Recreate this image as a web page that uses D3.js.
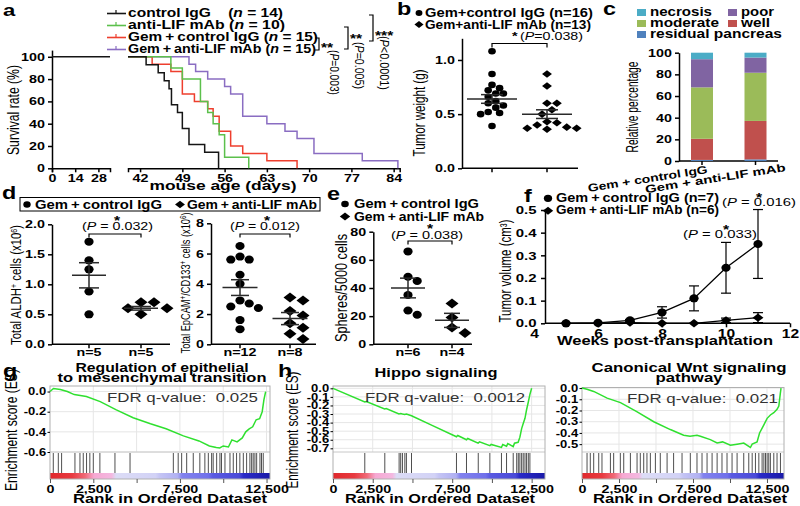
<!DOCTYPE html>
<html>
<head>
<meta charset="utf-8">
<title>LIF blockade figure</title>
<script src="https://cdn.jsdelivr.net/npm/d3@7"></script>
<style>
  body { margin: 0; background: #fff; }
  svg { display: block; font-family: "Liberation Sans", Arial, sans-serif; }
</style>
</head>
<body>
<script>
// ---- data ----
// a: Kaplan-Meier steps [day, % alive]
const kmCtrl = [[40,100],[43,92.9],[45,85.7],[46,78.6],[46.8,71.4],[47.2,57.1],[48.2,50],[49,35.7],[50.1,21.4],[52.7,14.3],[55,0]];
const kmAnti = [[40,100],[47.1,90],[49,80],[52,60],[53.2,50],[54.1,40],[55.1,30],[56,10],[60,0]];
const kmGem = [[40,100],[44,93.3],[47.1,86.7],[49,66.7],[51,60],[53.2,53.3],[54.1,46.7],[55.1,33.3],[57,20],[59,13.3],[63,6.7],[68,0]];
const kmGemAnti = [[40,100],[50.1,93.3],[51.2,86.7],[53.2,80],[56,73.3],[57,66.7],[59,46.7],[63,40],[66,33.3],[68,26.7],[70.8,13.3],[78.8,6.7],[84.7,0]];
const aNames = ["control IgG\u00a0\u00a0\u00a0\u00a0", "anti-LIF mAb ", "Gem\u2009+\u2009control IgG ", "Gem\u2009+\u2009anti-LIF mAb "];
const aN = [14, 10, 15, 15];

// b: tumour weight (g)
const bIgG = [1.08,0.87,0.77,0.74,0.72,0.69,0.69,0.66,0.62,0.60,0.58,0.56,0.52,0.51,0.50,0.39];
const bLif = [0.87,0.76,0.60,0.60,0.54,0.50,0.43,0.42,0.40,0.38,0.37,0.37,0.36];
const bMean = [0.64, 0.50], bSem = [0.04, 0.04];

// c: relative percentage
const cGroups = ["Gem + control IgG", "Gem + anti-LIF mAb"];
const cResidual = [1, 1.5];
const cWell = [19.5, 35.5];
const cModerate = [47.5, 44.5];
const cPoor = [26, 14];
const cNecrosis = [6, 4.5];

// d: ALDH+ and EpCAM+/CD133+ cells (x10^6)
const dAldhIgG = [1.71,1.40,1.25,0.88,0.50];
const dAldhLif = [0.70,0.70,0.60,0.60,0.50];
const dAldhMean = [1.15, 0.60], dAldhSem = [0.21, 0.03];
const dEpIgG = [6.5,5.8,5.6,5.6,4.6,4.0,2.9,2.7,2.5,2.4,1.6,1.0];
const dEpLif = [3.1,2.9,2.2,1.9,1.4,1.1,0.7,0.35];
const dEpMean = [3.75, 1.70], dEpSem = [0.52, 0.40];

// e: spheres / 5000 cells
const eIgG = [66,48,45,35,24,21];
const eLif = [29,19,12,8];
const eMean = [40, 17], eSem = [7, 5];

// f: tumour volume (cm3)
const fWeeks = [5,6,7,8,9,10,11];
const fCtrlMean = [0,0.002,0.013,0.048,0.11,0.245,0.35];
const fCtrlSem = [0,0,0.004,0.025,0.055,0.112,0.152];
const fAntiMean = [0,0,0.003,0,0,0.013,0.025];
const fAntiSem = [0,0,0,0,0,0.01,0.022];

// g/h: GSEA running enrichment scores [rank, ES] and hit ranks
const esEmt = [[0,0],[200,0.03],[600,0.02],[1000,0],[1400,-0.03],[2100,-0.05],[2900,-0.1],[3800,-0.18],[4800,-0.26],[5800,-0.32],[6700,-0.37],[7700,-0.44],[8600,-0.49],[9200,-0.54],[9600,-0.555],[9800,-0.56],[10000,-0.54],[10300,-0.55],[10500,-0.48],[10800,-0.5],[11100,-0.46],[11300,-0.4],[11500,-0.37],[11700,-0.35],[11900,-0.28],[12100,-0.27],[12250,-0.2],[12350,-0.08],[12450,0]];
const hitsEmt = [190,480,670,1440,1730,1920,2110,2300,2500,2880,3750,4620,7120,7400,7600,7890,8270,8650,8940,9140,9330,9420,9620,9810,9900,10100,10390,10580,10770,10960,11160,11350,11540,11640,11730,11830,11930,12120,12210,12310];
const esHippo = [[0,0],[2000,-0.16],[2100,-0.155],[3250,-0.24],[3350,-0.235],[4150,-0.3],[4260,-0.295],[4370,-0.3],[4510,-0.305],[4620,-0.3],[4940,-0.32],[6200,-0.43],[7770,-0.565],[7850,-0.55],[8400,-0.6],[8480,-0.585],[9130,-0.64],[9220,-0.625],[9870,-0.67],[9950,-0.655],[10600,-0.69],[10680,-0.655],[10920,-0.675],[11000,-0.645],[11340,-0.68],[11420,-0.64],[11650,-0.63],[11760,-0.57],[11870,-0.47],[11970,-0.41],[12080,-0.35],[12180,-0.25],[12290,-0.16],[12390,-0.07],[12500,0]];
const hitsHippo = [2000,3260,4160,4260,4370,4520,4620,4940,7770,8400,9140,9870,10600,10920,11340,11560,11660,11760,11870,11970,12080,12180,12290,12390];
const esWnt = [[0,0],[340,-0.01],[790,-0.03],[1700,-0.09],[2600,-0.13],[3700,-0.21],[4850,-0.3],[5970,-0.37],[6870,-0.42],[7300,-0.43],[7770,-0.42],[8000,-0.43],[8670,-0.46],[9130,-0.49],[9500,-0.48],[10030,-0.51],[10480,-0.5],[10930,-0.49],[11270,-0.52],[11380,-0.53],[11500,-0.5],[11830,-0.48],[12000,-0.4],[12280,-0.33],[12510,-0.27],[12730,-0.24],[12960,-0.22],[13180,-0.19],[13300,-0.16],[13400,-0.05],[13450,0]];
const hitsWnt = [340,560,790,1130,1350,1920,2140,2590,2820,3270,3720,3940,4170,4390,4620,4960,5290,5750,6190,6760,7320,7770,8110,8450,8790,9130,9460,9800,10140,10480,10930,11270,11500,11720,11950,12170,12290,12400,12510,12620,12730,12960,13180,13410];

// ---- setup ----
const SX = 1.3; // the published figure is stretched sideways
const svg = d3.select("body").append("svg").attr("width", 800).attr("height", 506);

// text with the sideways stretch; o.w = wanted width along the text
function txt(sel, x, y, html, o = {}) {
  const rot = o.rot || 0;
  const upright = Math.abs(rot) === 90;
  const sc = upright ? `scale(1,${SX})` : `scale(${SX},1)`;
  const t = sel.append("text")
    .attr("transform", `translate(${x},${y}) rotate(${rot}) ${sc}`)
    .attr("text-anchor", o.anchor || "start")
    .attr("font-size", o.size || 12)
    .attr("font-weight", o.weight || "bold")
    .attr("fill", o.fill || "#000")
    .html(html);
  if (o.w) t.attr("textLength", upright ? o.w : o.w / SX).attr("lengthAdjust", "spacingAndGlyphs");
  return t;
}
function styleAxis(g, fs) {
  g.attr("font-family", null).attr("font-size", null);
  g.selectAll("path, line").attr("stroke", "#000").attr("stroke-width", 1.5);
  g.selectAll("text").attr("font-size", fs).attr("font-weight", "bold").attr("fill", "#000")
    .attr("transform", `scale(${SX},1)`);
  return g;
}
function yAxis(sel, scale, x, ticks, fmt, fs = 11, size = 4, pad = 1.5) {
  return styleAxis(sel.append("g").attr("transform", `translate(${x},0)`)
    .call(d3.axisLeft(scale).tickValues(ticks).tickFormat(fmt).tickSize(size).tickPadding(pad).tickSizeOuter(0)), fs);
}
function xAxis(sel, scale, y, ticks, fmt, outer = 0, fs = 11) {
  return styleAxis(sel.append("g").attr("transform", `translate(0,${y})`)
    .call(d3.axisBottom(scale).tickValues(ticks).tickFormat(fmt).tickSize(4).tickPadding(2).tickSizeOuter(outer)), fs);
}
const circ = r => `M${-r},0a${r},${r} 0 1,0 ${2*r},0a${r},${r} 0 1,0 ${-2*r},0Z`;
const diam = r => `M0,${-r}L${r},0L0,${r}L${-r},0Z`;
const stretch = shape => shape === diam ? SX : 1.15;
function mark(sel, x, y, shape, r) {
  return sel.append("path").attr("d", shape(r))
    .attr("transform", `translate(${x},${y}) scale(${stretch(shape)},1)`).attr("fill", "#000");
}
// simple beeswarm: nearest free slot to the group centre
function swarm(vals, y, rx, ry) {
  const placed = [];
  [...vals].sort((a, b) => b - a).forEach(v => {
    const py = y(v);
    for (let k = 0; k < 60; k++) {
      const off = (k % 2 ? 1 : -1) * Math.ceil(k / 2) * rx;
      const hit = placed.some(p => ((off - p.off) / (2 * rx)) ** 2 + ((py - p.py) / (2 * ry)) ** 2 < 0.92);
      if (!hit) { placed.push({ off, py }); break; }
    }
  });
  return placed;
}
function dotGroup(sel, vals, cx, y, shape, r, mean, sem, half, cap) {
  const pts = swarm(vals, y, r * stretch(shape), r);
  sel.append("g").selectAll("path").data(pts).join("path")
    .attr("d", shape(r))
    .attr("transform", p => `translate(${cx + p.off},${p.py}) scale(${stretch(shape)},1)`)
    .attr("fill", "#000");
  const m = sel.append("g").attr("stroke", "#2a2a2a").attr("stroke-width", 1.5);
  m.append("line").attr("x1", cx - half).attr("x2", cx + half).attr("y1", y(mean)).attr("y2", y(mean));
  m.append("line").attr("x1", cx).attr("x2", cx).attr("y1", y(mean - sem)).attr("y2", y(mean + sem));
  [mean - sem, mean + sem].forEach(v => m.append("line")
    .attr("x1", cx - cap).attr("x2", cx + cap).attr("y1", y(v)).attr("y2", y(v)));
}
function bracket(sel, x1, x2, y, drop = 4) {
  sel.append("path").attr("d", `M${x1},${y + drop}V${y}H${x2}V${y + drop}`)
    .attr("fill", "none").attr("stroke", "#000").attr("stroke-width", 1.2);
}
function groupAxis(sel, x0, x1, y, centres, labels) {
  sel.append("line").attr("x1", x0).attr("x2", x1).attr("y1", y).attr("y2", y)
    .attr("stroke", "#000").attr("stroke-width", 1.5);
  centres.forEach((c, i) => {
    sel.append("line").attr("x1", c).attr("x2", c).attr("y1", y).attr("y2", y + 4)
      .attr("stroke", "#000").attr("stroke-width", 1.5);
    if (labels) txt(sel, c, y + 12, labels[i], { anchor: "middle", size: 11 });
  });
}
const P = v => `(<tspan font-style="italic">P</tspan> = ${v})`;
const sup = s => `<tspan baseline-shift="super" font-size="7">${s}</tspan>`;

// ---------- a ----------
const gA = svg.append("g");
txt(gA, 3, 16, "a", { size: 17 });
const ya = d3.scaleLinear([0, 106], [168.3, 50.1]);
const xa1 = d3.scaleLinear([0, 35], [52, 110]);
const xa2 = d3.scaleLinear([40, 85], [128, 399.7]);
yAxis(gA, ya, 52, [0, 20, 40, 60, 80, 100], d3.format("d"));
xAxis(gA, xa1, 168.3, [0, 14, 28], d3.format("d"), 4);
xAxis(gA, xa2, 168.3, [42, 49, 56, 63, 70, 77, 84], d3.format("d"), 4);
const aColors = ["#151515", "#5cc04c", "#ee3f2e", "#8a6dc2"];
const kmSets = [kmCtrl, kmAnti, kmGem, kmGemAnti];
const step = d3.line().x(d => xa2(d[0])).y(d => ya(d[1])).curve(d3.curveStepAfter);
[3, 2, 1, 0].forEach(i => gA.append("path").datum(kmSets[i]).attr("d", step)
  .attr("fill", "none").attr("stroke", aColors[i]).attr("stroke-width", 1.5));
gA.append("path").datum([[0, 100], [35, 100]])
  .attr("d", d3.line().x(d => xa1(d[0])).y(d => ya(d[1])))
  .attr("stroke", aColors[0]).attr("stroke-width", 1.5);
const aW = [155, 157, 190, 188];
aNames.forEach((nm, i) => {
  const by = 17 + i * 12;
  gA.append("line").attr("x1", 107).attr("x2", 126).attr("y1", by - 3.5).attr("y2", by - 3.5)
    .attr("stroke", aColors[i]).attr("stroke-width", 1.6);
  gA.append("line").attr("x1", 116).attr("x2", 116).attr("y1", by - 7).attr("y2", by - 3.5)
    .attr("stroke", aColors[i]).attr("stroke-width", 1.2);
  txt(gA, 128, by, `${nm}(<tspan font-style="italic">n</tspan> = ${aN[i]})`, { size: 12, w: aW[i] });
});
txt(gA, 19, 110, "Survival rate (%)", { rot: -90, anchor: "middle", weight: "normal", w: 90 });
txt(gA, 223, 190, "mouse age (days)", { anchor: "middle", size: 13, w: 147 });
[[315, 319, 38, 50], [344, 348, 27, 49], [369, 373, 15, 41]].forEach(b =>
  gA.append("path").attr("d", `M${b[0]},${b[2]}H${b[1]}V${b[3]}H${b[0]}`)
    .attr("fill", "none").attr("stroke", "#000").attr("stroke-width", 1.2));
txt(gA, 321, 52, "**", { size: 12 });
txt(gA, 350, 43, "**", { size: 12 });
txt(gA, 375, 40, "***", { size: 12 });
const vP = (v, op) => `(<tspan font-style="italic">P</tspan>${op}${v})`;
txt(gA, 330, 50, vP("0.003", "="), { rot: 90, size: 10.5, weight: "normal", w: 45 });
txt(gA, 355, 42, vP("0.005", "="), { rot: 90, size: 10.5, weight: "normal", w: 47 });
txt(gA, 380, 36, vP("0.0001", "&lt;"), { rot: 90, size: 10.5, weight: "normal", w: 54 });

// ---------- b ----------
const gB = svg.append("g");
txt(gB, 397, 15, "b", { size: 18 });
const yb = d3.scaleLinear([0, 1.2], [168.3, 38.3]);
const bx = [492, 547];
yAxis(gB, yb, 462, [0, 0.5, 1.0], d3.format(".1f"));
groupAxis(gB, 462, 578, 168.3, bx);
dotGroup(gB, bIgG, bx[0], yb, circ, 3.3, bMean[0], bSem[0], 25, 11);
dotGroup(gB, bLif, bx[1], yb, diam, 3.8, bMean[1], bSem[1], 25, 11);
mark(gB, 419, 13, circ, 3);
mark(gB, 419, 24.5, diam, 3.5);
txt(gB, 425, 17, "Gem+control IgG (n=16)", { size: 12, w: 168 });
txt(gB, 425, 28.5, "Gem+anti-LIF mAb (n=13)", { size: 12, w: 166 });
bracket(gB, bx[0], bx[1], 43.5, 4);
txt(gB, 512, 40, "*", { size: 11 });
txt(gB, 520, 40, `(<tspan font-style="italic">P</tspan>=0.038)`, { size: 11, weight: "normal", w: 63 });
txt(gB, 425, 113, "Tumor weight (g)", { rot: -90, anchor: "middle", weight: "normal", w: 87 });

// ---------- c ----------
const gC = svg.append("g");
txt(gC, 603, 15, "c", { size: 18 });
const yc = d3.scaleLinear([0, 100], [161, 52.7]);
const xc = d3.scalePoint(cGroups, [702, 755.5]);
yAxis(gC, yc, 679, [0, 20, 40, 60, 80, 100], d3.format("d"));
groupAxis(gC, 679, 778, 161, cGroups.map(xc));
const cKeys = ["residual pancreas", "well", "moderate", "poor", "necrosis"];
const cColors = { "residual pancreas": "#4f81bd", well: "#c0504d", moderate: "#9bbb59", poor: "#8064a2", necrosis: "#4bacc6" };
const cTable = cGroups.map((g, i) => ({ group: g, "residual pancreas": cResidual[i], well: cWell[i],
  moderate: cModerate[i], poor: cPoor[i], necrosis: cNecrosis[i] }));
d3.stack().keys(cKeys)(cTable).forEach(layer => {
  gC.append("g").attr("fill", cColors[layer.key]).selectAll("rect").data(layer).join("rect")
    .attr("x", d => xc(d.data.group) - 11).attr("width", 22)
    .attr("y", d => yc(d[1])).attr("height", d => yc(d[0]) - yc(d[1]));
});
[["necrosis", 637, 9, 62], ["poor", 728, 9, 33], ["moderate", 637, 20, 69], ["well", 728, 20, 29], ["residual pancreas", 637, 31, 132]]
  .forEach(([k, x, y, w]) => {
    gC.append("rect").attr("x", x).attr("y", y).attr("width", 9).attr("height", 7).attr("fill", cColors[k]);
    txt(gC, x + 13, y + 7, k, { size: 12, w });
  });
txt(gC, 638, 107, "Relative percentage", { rot: -90, anchor: "middle", weight: "normal", w: 91 });
txt(gC, 708, 173, cGroups[0], { rot: -9, anchor: "end", size: 11, w: 121 });
txt(gC, 786, 171, cGroups[1], { rot: -9, anchor: "end", size: 11, w: 142 });

// ---------- d ----------
const gD = svg.append("g");
txt(gD, 2, 199, "d", { size: 18 });
gD.append("rect").attr("x", 20).attr("y", 197.5).attr("width", 300).attr("height", 13.5)
  .attr("fill", "none").attr("stroke", "#000").attr("stroke-width", 1);
mark(gD, 27, 204.5, circ, 3.2);
txt(gD, 35, 208.5, "Gem\u2009+\u2009control IgG", { size: 12, w: 127 });
mark(gD, 180, 204.5, diam, 3.8);
txt(gD, 187, 208.5, "Gem\u2009+\u2009anti-LIF mAb", { size: 12, w: 130 });
const yd1 = d3.scaleLinear([0, 2], [344.3, 224.3]);
const d1x = [89, 141];
yAxis(gD, yd1, 52, [0, 0.5, 1, 1.5, 2], d3.format(".1f"));
groupAxis(gD, 52, 170, 344.3, d1x, ["n=5", "n=5"]);
dotGroup(gD, dAldhIgG, d1x[0], yd1, circ, 4, dAldhMean[0], dAldhSem[0], 17, 10);
dotGroup(gD, dAldhLif, d1x[1], yd1, diam, 5, dAldhMean[1], dAldhSem[1], 17, 10);
bracket(gD, d1x[0], d1x[1], 234, 3.5);
txt(gD, 117, 225, "*", { anchor: "middle", size: 12 });
txt(gD, 117.5, 230, P("0.032"), { anchor: "middle", size: 11.5, weight: "normal", w: 71 });
txt(gD, 21, 285, `Total ALDH${sup("+")} cells (x10${sup("6")})`, { rot: -90, anchor: "middle", weight: "normal", size: 11.5, w: 120 });
const yd2 = d3.scaleLinear([0, 8], [344.3, 223.3]);
const d2x = [240, 290];
yAxis(gD, yd2, 211, [0, 2, 4, 6, 8], d3.format("d"));
groupAxis(gD, 211, 316, 344.3, d2x, ["n=12", "n=8"]);
dotGroup(gD, dEpIgG, d2x[0], yd2, circ, 4, dEpMean[0], dEpSem[0], 17.5, 9);
dotGroup(gD, dEpLif, d2x[1], yd2, diam, 5, dEpMean[1], dEpSem[1], 17.5, 9);
bracket(gD, d2x[0], d2x[1], 234, 3.5);
txt(gD, 267, 225, "*", { anchor: "middle", size: 12 });
txt(gD, 265, 230, P("0.012"), { anchor: "middle", size: 11.5, weight: "normal", w: 70 });
txt(gD, 190, 283, `Total EpCAM${sup("+")}/CD133${sup("+")} cells (x10${sup("6")})`, { rot: -90, anchor: "middle", weight: "normal", size: 10.5, w: 141 });

// ---------- e ----------
const gE = svg.append("g");
txt(gE, 327, 200, "e", { size: 18 });
mark(gE, 345, 204, circ, 3.3);
txt(gE, 354, 208, "Gem\u2009+\u2009control IgG", { size: 12, w: 125 });
mark(gE, 345, 216.5, diam, 4);
txt(gE, 354, 220.5, "Gem\u2009+\u2009anti-LIF mAb", { size: 12, w: 130 });
const ye = d3.scaleLinear([0, 80], [344.3, 231.7]);
const ex = [408, 452];
yAxis(gE, ye, 373.3, [0, 20, 40, 60, 80], d3.format("d"));
groupAxis(gE, 373.3, 472, 344.3, ex, ["n=6", "n=4"]);
dotGroup(gE, eIgG, ex[0], ye, circ, 4, eMean[0], eSem[0], 17, 8);
dotGroup(gE, eLif, ex[1], ye, diam, 5, eMean[1], eSem[1], 17, 8);
bracket(gE, ex[0], ex[1], 241, 3.5);
txt(gE, 430, 233, "*", { anchor: "middle", size: 12 });
txt(gE, 427, 239, P("0.038"), { anchor: "middle", size: 11.5, weight: "normal", w: 72 });
txt(gE, 347, 288, "Spheres/5000 cells", { rot: -90, anchor: "middle", weight: "normal", w: 108 });

// ---------- f ----------
const gF = svg.append("g");
txt(gF, 524, 202, "f", { size: 18 });
const yf = d3.scaleLinear([0, 0.5], [323.3, 210]);
const xf = d3.scaleLinear([4, 12], [534, 790]);
yAxis(gF, yf, 545, [0, 0.1, 0.2, 0.3, 0.4, 0.5], d3.format(".1f"), 11.5, 4, 2.5);
const fx = xAxis(gF, xf, 323.3, [4, 6, 8, 10, 12], d3.format("d"), 0, 12);
fx.select(".domain").remove();
fx.selectAll(".tick line").filter(d => d === 4).remove();
gF.append("line").attr("x1", 545).attr("x2", 790).attr("y1", 323.3).attr("y2", 323.3)
  .attr("stroke", "#000").attr("stroke-width", 1.5);
[[fCtrlMean, fCtrlSem, circ, 4], [fAntiMean, fAntiSem, diam, 4.2]].forEach(([m, s, shape, r]) => {
  const pts = fWeeks.map((w, i) => ({ w, m: m[i], s: s[i] }));
  gF.append("path").datum(pts).attr("d", d3.line().x(d => xf(d.w)).y(d => yf(d.m)))
    .attr("fill", "none").attr("stroke", "#000").attr("stroke-width", 1.3);
  const eb = gF.append("g").attr("stroke", "#000").attr("stroke-width", 1.2);
  pts.filter(d => d.s > 0).forEach(d => {
    eb.append("line").attr("x1", xf(d.w)).attr("x2", xf(d.w)).attr("y1", yf(d.m - d.s)).attr("y2", yf(d.m + d.s));
    [d.m - d.s, d.m + d.s].forEach(v => eb.append("line")
      .attr("x1", xf(d.w) - 5).attr("x2", xf(d.w) + 5).attr("y1", yf(v)).attr("y2", yf(v)));
  });
  pts.forEach(d => mark(gF, xf(d.w), yf(d.m), shape, r));
});
mark(gF, 548, 198.3, circ, 3.6);
txt(gF, 556, 202, "Gem\u2009+\u2009control IgG (n=7)", { size: 12, w: 163 });
mark(gF, 548, 210.7, diam, 4);
txt(gF, 556, 214, "Gem\u2009+\u2009anti-LIF mAb (n=6)", { size: 12, w: 163 });
txt(gF, 759, 202, "*", { anchor: "middle", size: 12 });
txt(gF, 722, 206, P("0.016"), { size: 11.5, weight: "normal", w: 74 });
txt(gF, 726, 234, "*", { anchor: "middle", size: 12 });
txt(gF, 683, 238, P("0.033"), { size: 11.5, weight: "normal", w: 74 });
txt(gF, 665, 345, "Weeks post-transplantation", { anchor: "middle", size: 13, w: 216 });
txt(gF, 511, 271, "Tumor volume (cm³)", { rot: -90, anchor: "middle", weight: "normal", w: 103 });

// ---------- g / h : GSEA ----------
const barStops = [[0,"#e0282c"],[0.1,"#e83a40"],[0.16,"#f06a78"],[0.2,"#f6a8d2"],[0.28,"#f4b8e0"],[0.3,"#dcdcf6"],[0.48,"#d2d2f6"],[0.5,"#c4c4f4"],[0.58,"#b0b0f2"],[0.6,"#8282ee"],[0.72,"#7070ea"],[0.74,"#5a5ae2"],[0.86,"#4a4ad8"],[0.88,"#2a2ac8"],[1,"#1a1aa8"]];
const grad = svg.append("defs").append("linearGradient").attr("id", "rankGrad");
grad.selectAll("stop").data(barStops).join("stop")
  .attr("offset", d => d[0]).attr("stop-color", d => d[1]);
const rankTicks = [0, 2500, 5000, 7500, 10000, 12500];
const rankLabelled = [0, 2500, 7500, 12500];

function esPanel(o) {
  const g = svg.append("g");
  const x = d3.scaleLinear([0, o.n], [o.x0, o.x1]);
  const y = d3.scaleLinear(o.yDom, [o.esB, o.top]);
  g.append("g").attr("stroke", "#e6e6e6").selectAll("line").data(o.yTicks).join("line")
    .attr("x1", o.x0).attr("x2", o.x1).attr("y1", y).attr("y2", y);
  g.append("g").attr("stroke", "#e6e6e6").selectAll("line").data(rankTicks.slice(1)).join("line")
    .attr("x1", x).attr("x2", x).attr("y1", o.top).attr("y2", o.esB);
  g.append("line").attr("x1", o.x0).attr("x2", o.x1).attr("y1", o.esB).attr("y2", o.esB).attr("stroke", "#c8c8c8");
  g.append("g").attr("stroke", "#222").attr("stroke-width", 0.8).selectAll("line").data(o.hits).join("line")
    .attr("x1", x).attr("x2", x).attr("y1", o.esB + 1).attr("y2", o.hitB);
  g.append("rect").attr("x", o.x0).attr("y", o.hitB).attr("width", o.x1 - o.x0).attr("height", o.barB - o.hitB)
    .attr("fill", "url(#rankGrad)");
  g.append("rect").attr("x", o.x0).attr("y", o.top).attr("width", o.x1 - o.x0).attr("height", o.barB - o.top)
    .attr("fill", "none").attr("stroke", "#b0b0b0").attr("stroke-width", 1);
  g.append("path").datum(o.es).attr("d", d3.line().x(d => x(d[0])).y(d => y(d[1])))
    .attr("fill", "none").attr("stroke", "#2fe02f").attr("stroke-width", 1.5);
  const ya = yAxis(g, y, o.x0, o.yTicks, d => d.toFixed(1), 10, 2.5, 0.5);
  ya.select(".domain").remove();
  ya.selectAll(".tick line").attr("stroke-width", 1);
  const xa = xAxis(g, x, o.barB, rankTicks, d => rankLabelled.includes(d) ? d3.format(",")(d) : "", 0, 11);
  xa.select(".domain").remove();
  xa.selectAll(".tick line").attr("stroke-width", 1).attr("stroke", "#555");
  txt(g, o.fdrX, o.top + 15.5, `FDR q-value:\u00a0\u00a0${o.fdr}`, { size: 13, weight: "normal", fill: "#333", w: o.fdrW });
  o.title.forEach((t, i) => txt(g, o.titleX, o.titleY + i * 10.3, t, { anchor: "middle", size: 12, w: o.titleW[i] }));
  txt(g, o.rankX, 503, "Rank in Ordered Dataset", { anchor: "middle", size: 13, w: o.rankW });
  if (o.ylab) txt(g, o.ylab, 430, "Enrichment score (ES)", { rot: -90, anchor: "middle", weight: "normal", w: o.ylabW });
}
txt(svg, 3, 377, "g", { size: 18 });
txt(svg, 278, 377, "h", { size: 18 });
esPanel({ x0: 50, x1: 270, top: 386, esB: 452, hitB: 473, barB: 479, n: 12700,
  yDom: [-0.6, 0.055], yTicks: [0, -0.2, -0.4, -0.6], es: esEmt, hits: hitsEmt,
  fdr: "0.025", fdrX: 107, fdrW: 151, title: ["Regulation of epithelial", "to mesenchymal transition"], titleW: [173, 209],
  titleX: 162, titleY: 372, rankX: 170, rankW: 194, ylab: 17, ylabW: 122 });
esPanel({ x0: 333, x1: 545, top: 386, esB: 452, hitB: 473, barB: 479, n: 13340,
  yDom: [-0.743, 0.027], yTicks: [0, -0.1, -0.2, -0.3, -0.4, -0.5, -0.6, -0.7], es: esHippo, hits: hitsHippo,
  fdr: "0.0012", fdrX: 365, fdrW: 160, title: ["Hippo signaling"], titleW: [123], titleX: 436, titleY: 377,
  rankX: 440, rankW: 190, ylab: 298, ylabW: 117 });
esPanel({ x0: 582, x1: 784, top: 387.5, esB: 452, hitB: 473, barB: 479, n: 13650,
  yDom: [-0.57, 0.005], yTicks: [0, -0.1, -0.2, -0.3, -0.4, -0.5], es: esWnt, hits: hitsWnt,
  fdr: "0.021", fdrX: 627, fdrW: 151, title: ["Canonical Wnt signaling", "pathway"], titleW: [195, 67],
  titleX: 689, titleY: 372, rankX: 690, rankW: 194 });
</script>
</body>
</html>
